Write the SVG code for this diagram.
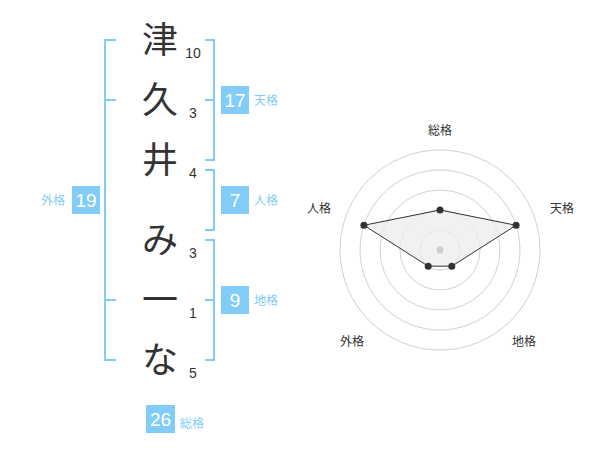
<svg xmlns="http://www.w3.org/2000/svg" width="600" height="470" viewBox="0 0 600 470">
<style>
.ch{font-family:"Noto Sans CJK JP","Noto Sans CJK SC",sans-serif;font-size:36px;fill:#333;text-anchor:middle}
.num{font-family:"Liberation Sans",Arial,sans-serif;font-size:14px;fill:#333;text-anchor:middle}
.br{fill:none;stroke:#82cdf8;stroke-width:2}
.box{fill:#82cdf8}
.bv{font-family:"Liberation Sans",Arial,sans-serif;font-size:19px;fill:#fff;text-anchor:middle}
.bl{font-family:"Noto Sans CJK JP","Noto Sans CJK SC",sans-serif;font-size:12px;fill:#82cdf8}
.ring{fill:none;stroke:#d0d0d0;stroke-width:1}
.ax{font-family:"Noto Sans CJK JP","Noto Sans CJK SC",sans-serif;font-size:12px;fill:#333;text-anchor:middle}
.pt{fill:#333}
</style>
<rect width="600" height="470" fill="#fff"/>
<g id="name">
<text class="ch" x="160" y="53">津</text>
<text class="ch" x="160" y="113">久</text>
<text class="ch" x="160" y="173">井</text>
<text class="ch" x="160" y="253">み</text>
<text class="ch" x="160" y="313">一</text>
<text class="ch" x="160" y="373">な</text>
<text class="num" x="193" y="58">10</text>
<text class="num" x="193" y="118">3</text>
<text class="num" x="193" y="178">4</text>
<text class="num" x="193" y="258">3</text>
<text class="num" x="193" y="318">1</text>
<text class="num" x="193" y="378">5</text>
</g>
<g id="connectors">
<path class="br" d="M116,40H105V360H116M105,100H116M105,300H116"/>
<path class="br" d="M205,40H214V160H205M214,100H205"/>
<path class="br" d="M205,170H214V230H205"/>
<path class="br" d="M205,240H214V360H205M214,300H205"/>
</g>
<g id="tenkaku">
<rect class="box" x="221" y="86" width="28" height="28"/>
<text class="bv" x="235" y="107">17</text>
<text class="bl" x="254" y="105">天格</text>
</g>
<g id="jinkaku">
<rect class="box" x="221" y="186" width="28" height="28"/>
<text class="bv" x="235" y="207">7</text>
<text class="bl" x="254" y="205">人格</text>
</g>
<g id="chikaku">
<rect class="box" x="221" y="286" width="28" height="28"/>
<text class="bv" x="235" y="307">9</text>
<text class="bl" x="254" y="305">地格</text>
</g>
<g id="gaikaku">
<rect class="box" x="72" y="186" width="28" height="28"/>
<text class="bv" x="86" y="207">19</text>
<text class="bl" x="41" y="205">外格</text>
</g>
<g id="soukaku">
<rect class="box" x="146" y="405" width="29" height="28"/>
<text class="bv" x="160.5" y="426">26</text>
<text class="bl" x="180" y="428">総格</text>
</g>
<g id="radar">
<circle class="ring" cx="440" cy="250" r="20"/>
<circle class="ring" cx="440" cy="250" r="40"/>
<circle class="ring" cx="440" cy="250" r="60"/>
<circle class="ring" cx="440" cy="250" r="80"/>
<circle class="ring" cx="440" cy="250" r="100"/>
<polygon points="440,210 516.1,225.3 451.8,266.2 428.2,266.2 363.9,225.3" fill="#ececec" fill-opacity="0.75" stroke="#333" stroke-width="1"/>
<circle cx="440" cy="250" r="3.5" fill="#cccccc"/>
<circle class="pt" cx="440" cy="210" r="3.5"/>
<circle class="pt" cx="516.1" cy="225.3" r="3.5"/>
<circle class="pt" cx="451.8" cy="266.2" r="3.5"/>
<circle class="pt" cx="428.2" cy="266.2" r="3.5"/>
<circle class="pt" cx="363.9" cy="225.3" r="3.5"/>
<text class="ax" x="440" y="135">総格</text>
<text class="ax" x="562" y="213">天格</text>
<text class="ax" x="319" y="213">人格</text>
<text class="ax" x="352" y="346">外格</text>
<text class="ax" x="524" y="346">地格</text>
</g>
</svg>
